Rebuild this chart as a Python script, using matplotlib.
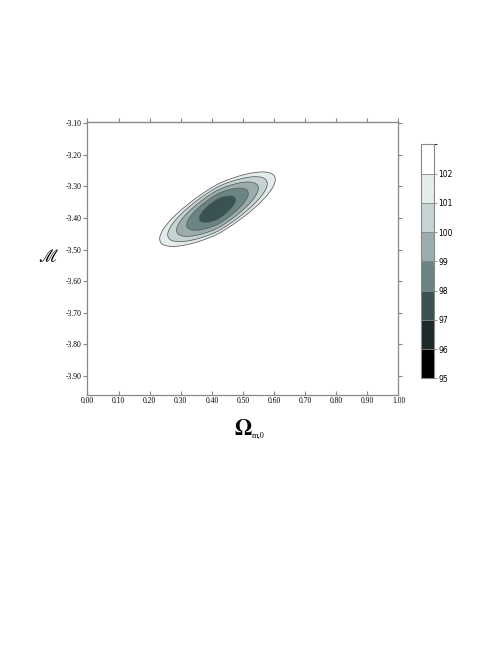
import matplotlib
matplotlib.use("Agg")
import matplotlib.pyplot as plt
import numpy as np
from matplotlib.colors import ListedColormap, BoundaryNorm
from matplotlib.colorbar import ColorbarBase

# chi^2 surface (valley along a tilted line)
CHI2_MIN = 97.2
BEST_OM = 0.418
BEST_M = -3.372
SLOPE = 0.505          # tilt of the valley, dM/dOm
SIGMA_OM = 0.068       # spread along the valley
POW_OM = 1.56          # shape along the valley
SIGMA_T = 0.036        # spread across the valley

levels = [95, 96, 97, 98, 99, 100, 101, 102, 103]
level_colors = ["#000000", "#1c2a2a", "#3b5252", "#6b8585",
                "#9aacac", "#c5d3d3", "#e3ebeb", "#ffffff"]
x_ticks = [0.0, 0.1, 0.2, 0.3, 0.4, 0.5, 0.6, 0.7, 0.8, 0.9, 1.0]
y_ticks = [-3.1, -3.2, -3.3, -3.4, -3.5, -3.6, -3.7, -3.8, -3.9]

om = np.linspace(0.0, 1.0, 401)
mm = np.linspace(-3.96, -3.09, 401)
OM, MM = np.meshgrid(om, mm)
d_om = OM - BEST_OM
t = (MM - BEST_M) - SLOPE * d_om
chi2 = CHI2_MIN + np.abs(d_om / SIGMA_OM) ** POW_OM + (t / SIGMA_T) ** 2

cmap = ListedColormap(level_colors)
norm = BoundaryNorm(levels, cmap.N)

plt.rcParams["mathtext.fontset"] = "stix"
fig = plt.figure(figsize=(4.98, 6.45), dpi=100)
ax = fig.add_axes([0.1757, 0.3876, 0.6245, 0.4228])

ax.contourf(OM, MM, chi2, levels=levels, cmap=cmap, norm=norm, antialiased=True)
ax.contour(OM, MM, chi2, levels=levels[3:-1], colors="#4a4a4a", linewidths=0.5)

ax.set_xlim(0, 1)
ax.set_ylim(-3.96, -3.097)
ax.set_xticks(x_ticks)
ax.set_yticks(y_ticks)
ax.set_xticklabels([f"{v:.2f}" for v in x_ticks], family="Liberation Serif", fontsize=5.5)
ax.set_yticklabels([f"{v:.2f}" for v in y_ticks], family="Liberation Serif", fontsize=5.5)

for s in ax.spines.values():
    s.set_color("#888888")
    s.set_linewidth(0.9)
ax.tick_params(axis="x", bottom=True, top=False, direction="in", length=3,
               color="#888888", pad=1.5)
ax.tick_params(axis="y", left=True, right=True, direction="out", length=3,
               color="#888888", pad=1)
ax.tick_params(axis="y", labelright=False)
# top ticks point outward, drawn as a secondary axis
top = ax.secondary_xaxis("top")
top.set_xticks(x_ticks)
top.tick_params(direction="out", length=3, color="#888888", labeltop=False)
top.spines["top"].set_color("#888888")

fig.text(0.097, 0.6016, r"$\mathscr{M}$", fontsize=13, ha="center", va="center")
fig.text(0.488, 0.335, r"$\mathbf{\Omega}$", fontsize=16, ha="center", va="center")
fig.text(0.506, 0.324, "m,0", family="Liberation Serif", fontsize=6,
         ha="left", va="center")

cax = fig.add_axes([0.8454, 0.4135, 0.0261, 0.3628])
cb = ColorbarBase(cax, cmap=cmap, norm=norm, boundaries=levels,
                  ticks=levels[:-1], drawedges=True)
cb.outline.set_edgecolor("#888888")
cb.outline.set_linewidth(0.8)
cb.dividers.set_color("#888888")
cb.dividers.set_linewidth(0.6)
cax.tick_params(length=2, width=0.6, color="#888888", labelsize=5.5, pad=1)

fig.savefig("out.png", dpi=100)
